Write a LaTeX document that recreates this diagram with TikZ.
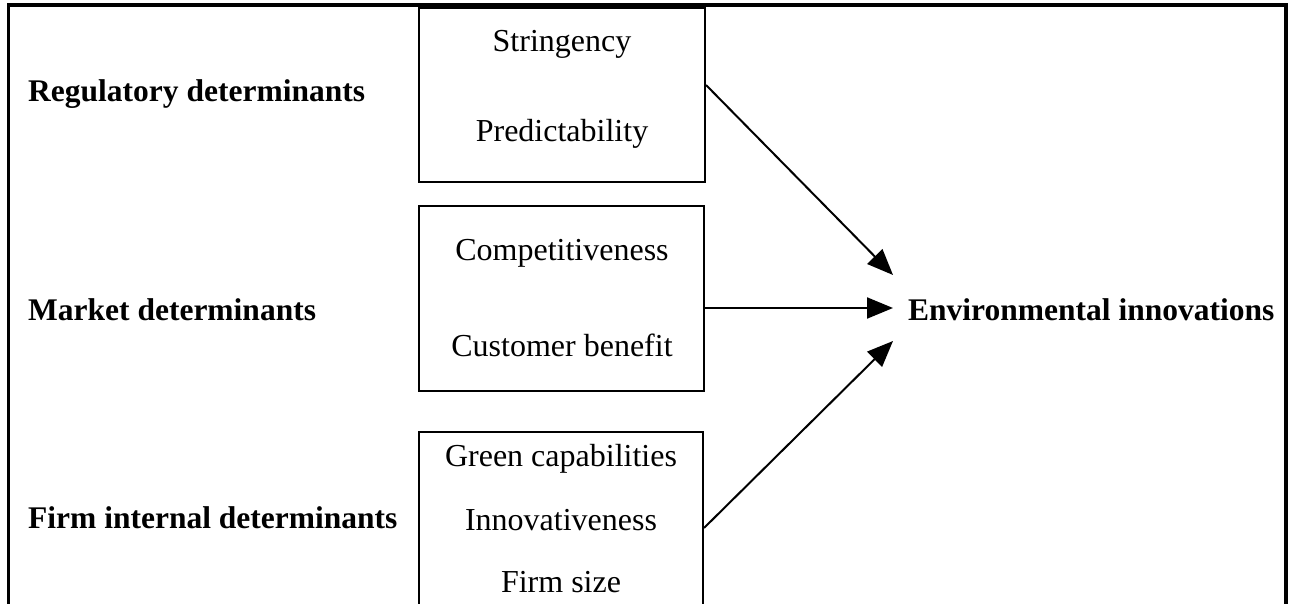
\documentclass[tikz,border=0pt]{standalone}
\usepackage{fontspec}
\setmainfont{Liberation Serif}
\usetikzlibrary{arrows.meta}
\begin{document}
\begin{tikzpicture}[x=1pt,y=-1pt,
  framebox/.style={draw,line width=2pt,inner sep=0pt},
  boxtext/.style={font=\fontsize{32}{36}\selectfont,inner sep=0pt},
  headtext/.style={font=\fontsize{31.5}{36}\selectfont\bfseries,inner sep=0pt,anchor=west},
  flow/.style={line width=2pt,-{Triangle[length=26pt,width=21pt]}}]
\useasboundingbox (0,0) rectangle (1295,604);
% outer frame (open at the bottom)
\draw[line width=3.5pt] (8.5,610) -- (8.5,5) -- (1286,5) -- (1286,610);
% determinant boxes
\node[framebox,minimum width=286pt,minimum height=174pt] (b1) at (562,95) {};
\node[framebox,minimum width=285pt,minimum height=185pt] (b2) at (561.5,298.5) {};
\node[framebox,minimum width=284pt,minimum height=176pt] (b3) at (561,520) {};
% box contents
\node[boxtext] (s1) at (562,44) {Stringency};
\node[boxtext] (s2) at (562,134) {Predictability};
\node[boxtext] (m1) at (562,253) {Competitiveness};
\node[boxtext] (m2) at (562,345) {Customer benefit};
\node[boxtext] (f1) at (561,459) {Green capabilities};
\node[boxtext] (f2) at (561,520) {Innovativeness};
\node[boxtext] (f3) at (561,582) {Firm size};
% left-hand headings
\node[headtext] (reg) at (28,94) {Regulatory determinants};
\node[headtext] (mkt) at (28,310) {Market determinants};
\node[headtext] (firm) at (28,518) {Firm internal determinants};
% outcome
\node[headtext] (env) at (908,310) {Environmental innovations};
% connectors
\coordinate (t1) at (893,275);
\coordinate (t2) at (893,308);
\coordinate (t3) at (893,341);
\draw[flow] ([yshift=10pt]b1.east) -- (t1);
\draw[flow] ([yshift=-9.5pt]b2.east) -- (t2);
\draw[flow] ([yshift=-8pt]b3.east) -- (t3);
\end{tikzpicture}
\end{document}
